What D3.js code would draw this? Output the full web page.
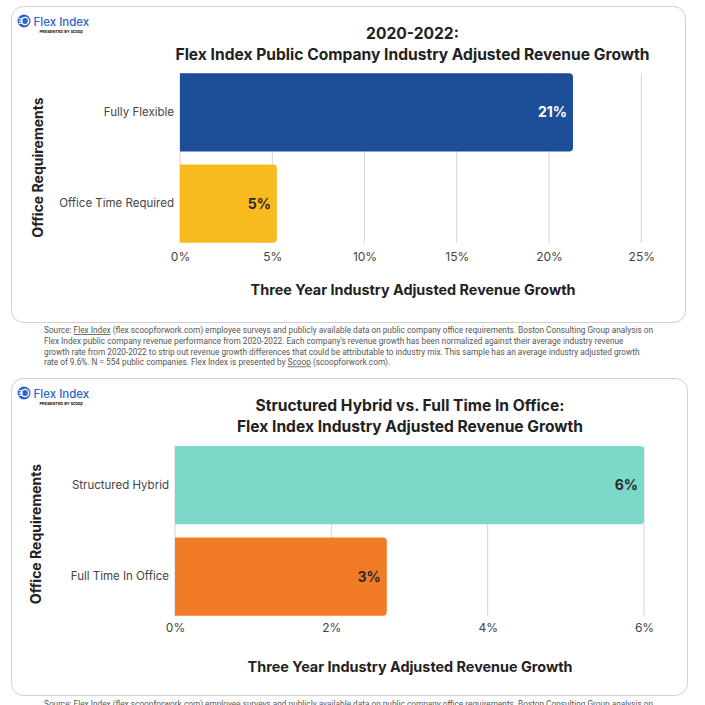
<!DOCTYPE html>
<html>
<head>
<meta charset="utf-8">
<script src="https://cdn.jsdelivr.net/npm/d3@7"></script>
<style>
html,body{margin:0;padding:0;background:#fff;overflow:hidden;}
svg{display:block;}
</style>
</head>
<body>
<svg id="chart" width="705" height="705"></svg>
<script>
// ---- Data ----
const categories1 = ["Fully Flexible", "Office Time Required"];
const values1 = [21.3, 5.25];
const labels1 = ["21%", "5%"];
const ticks1 = [0, 5, 10, 15, 20, 25];
const title1 = ["2020-2022:", "Flex Index Public Company Industry Adjusted Revenue Growth"];

const categories2 = ["Structured Hybrid", "Full Time In Office"];
const values2 = [6.0, 2.71];
const labels2 = ["6%", "3%"];
const ticks2 = [0, 2, 4, 6];
const title2 = ["Structured Hybrid vs. Full Time In Office:", "Flex Index Industry Adjusted Revenue Growth"];

const xAxisTitle = "Three Year Industry Adjusted Revenue Growth";
const yAxisTitle = "Office Requirements";

const sourceLines = [
  [["Source: ", false], ["Flex Index", true], [" (flex.scoopforwork.com) employee surveys and publicly available data on public company office requirements. Boston Consulting Group analysis on", false]],
  [["Flex Index public company revenue performance from 2020-2022. Each company's revenue growth has been normalized against their average industry revenue", false]],
  [["growth rate from 2020-2022 to strip out revenue growth differences that could be attributable to industry mix. This sample has an average industry adjusted growth", false]],
  [["rate of 9.6%. N = 554 public companies. Flex Index is presented by ", false], ["Scoop", true], [" (scoopforwork.com).", false]]
];

const svg = d3.select("#chart");
const FONT = "Inter, 'Noto Sans', sans-serif";

function roundedRightBar(x0, y0, x1, y1, r) {
  const w = x1 - x0, h = y1 - y0;
  r = Math.min(r, w / 2, h / 2);
  return `M${x0},${y0}H${x1 - r}Q${x1},${y0} ${x1},${y0 + r}V${y1 - r}Q${x1},${y1} ${x1 - r},${y1}H${x0}Z`;
}

function drawLogo(g, x, y) {
  const lg = g.append("g").attr("transform", `translate(${x},${y})`);
  lg.append("circle").attr("cx", 6.5).attr("cy", 6.5).attr("r", 6.5).attr("fill", "#2f63c9");
  lg.append("circle").attr("cx", 7.5).attr("cy", 6.5).attr("r", 3.6).attr("fill", "none").attr("stroke", "#fff").attr("stroke-width", 1.4);
  [4.2, 6.5, 8.8].forEach(yy => lg.append("line").attr("x1", 1.2).attr("x2", 5.5).attr("y1", yy).attr("y2", yy).attr("stroke", "#fff").attr("stroke-width", 1));
  lg.append("text").attr("x", 16).attr("y", 11).attr("font-family", FONT).attr("font-size", 11.5)
    .attr("font-weight", 500).attr("fill", "#2f63c9").text("Flex Index");
  lg.append("text").attr("x", 22).attr("y", 18.5).attr("font-family", FONT).attr("font-size", 4)
    .attr("font-weight", 700).attr("fill", "#111").text("PRESENTED BY scoop");
}

function drawPanel(cfg) {
  const g = svg.append("g");
  // card
  g.append("rect").attr("x", cfg.card[0]).attr("y", cfg.card[1])
    .attr("width", cfg.card[2] - cfg.card[0]).attr("height", cfg.card[3] - cfg.card[1])
    .attr("rx", 12).attr("fill", "#fff").attr("stroke", "#cfcfd6").attr("stroke-width", 1);

  drawLogo(g, cfg.card[0] + 6, cfg.card[1] + 8);

  // titles
  cfg.title.forEach((t, i) => {
    g.append("text").attr("x", cfg.titleX).attr("y", cfg.titleY[i]).attr("text-anchor", "middle")
      .attr("font-family", FONT).attr("font-size", 15.6).attr("font-weight", 700).attr("fill", "#222")
      .text(t);
  });

  const x = d3.scaleLinear().domain([0, cfg.ticks[cfg.ticks.length - 1]]).range(cfg.xRange);
  const y = d3.scaleBand().domain(cfg.categories).range(cfg.yRange).paddingInner(0.145).paddingOuter(0);

  // gridlines
  g.append("g").selectAll("line").data(cfg.ticks).join("line")
    .attr("x1", d => x(d)).attr("x2", d => x(d))
    .attr("y1", cfg.yRange[0]).attr("y2", cfg.yRange[1])
    .attr("stroke", "#d4d4d4").attr("stroke-width", 1);

  // bars
  g.append("g").selectAll("path").data(cfg.values).join("path")
    .attr("d", (d, i) => roundedRightBar(x(0), y(cfg.categories[i]), x(d), y(cfg.categories[i]) + y.bandwidth(), 4))
    .attr("fill", (d, i) => cfg.colors[i]);

  // bar labels
  g.append("g").selectAll("text").data(cfg.values).join("text")
    .attr("x", d => x(d) - 6)
    .attr("y", (d, i) => y(cfg.categories[i]) + y.bandwidth() / 2 + 5)
    .attr("text-anchor", "end").attr("font-family", FONT).attr("font-size", 14).attr("font-weight", 700)
    .attr("fill", (d, i) => cfg.labelColors[i])
    .text((d, i) => cfg.labels[i]);

  // x axis ticks
  const xAxis = d3.axisBottom(x).tickValues(cfg.ticks).tickSize(0).tickPadding(0).tickFormat(d => d + "%");
  const ax = g.append("g").attr("transform", `translate(0,${cfg.tickY})`).call(xAxis);
  ax.select(".domain").remove();
  ax.selectAll("text").attr("font-family", FONT).attr("font-size", 12).attr("fill", "#444").attr("dy", 0);

  // y axis labels
  const yAxis = d3.axisLeft(y).tickSize(0).tickPadding(0);
  const ay = g.append("g").attr("transform", `translate(${cfg.yLabelX},0)`).call(yAxis);
  ay.select(".domain").remove();
  ay.selectAll("text").attr("font-family", FONT).attr("font-size", 11.5).attr("fill", "#444").attr("dy", "0.32em");

  // axis titles
  g.append("text").attr("x", cfg.xTitleX).attr("y", cfg.xTitleY).attr("text-anchor", "middle")
    .attr("font-family", FONT).attr("font-size", 14.4).attr("font-weight", 700).attr("fill", "#222").text(xAxisTitle);
  g.append("text").attr("transform", `translate(${cfg.yTitleX},${cfg.yTitleY}) rotate(-90)`).attr("text-anchor", "middle")
    .attr("font-family", FONT).attr("font-size", 14).attr("font-weight", 700).attr("fill", "#222").text(yAxisTitle);
}

drawPanel({
  card: [11.5, 6.5, 685.5, 322.5],
  title: title1, titleX: 412.5, titleY: [39, 60],
  categories: categories1, values: values1, labels: labels1, ticks: ticks1,
  colors: ["#1d4e98", "#f7bb1f"], labelColors: ["#ffffff", "#2a2a2a"],
  xRange: [180, 641.3], yRange: [73.3, 242.7],
  tickY: 261, yLabelX: 174,
  xTitleX: 413, xTitleY: 295, yTitleX: 42.5, yTitleY: 167.5
});

drawPanel({
  card: [11.5, 378.5, 687.5, 695.5],
  title: title2, titleX: 410, titleY: [411, 432],
  categories: categories2, values: values2, labels: labels2, ticks: ticks2,
  colors: ["#7cd8c8", "#f27b27"], labelColors: ["#2a2a2a", "#2a2a2a"],
  xRange: [175, 644], yRange: [446, 615.7],
  tickY: 632, yLabelX: 169,
  xTitleX: 410, xTitleY: 672, yTitleX: 40.5, yTitleY: 534
});

// source notes
function drawSource(lines, x0, y0, lh) {
  lines.forEach((parts, i) => {
    const t = svg.append("text").attr("x", x0).attr("y", y0 + i * lh)
      .attr("font-family", "Roboto, 'Liberation Sans', sans-serif").attr("font-size", 8.25).attr("fill", "#555");
    parts.forEach(p => {
      t.append("tspan").attr("text-decoration", p[1] ? "underline" : null).text(p[0]);
    });
  });
}
drawSource(sourceLines, 44, 333, 10.8);
drawSource([sourceLines[0]], 44, 706.5, 10.8);
</script>
</body>
</html>
